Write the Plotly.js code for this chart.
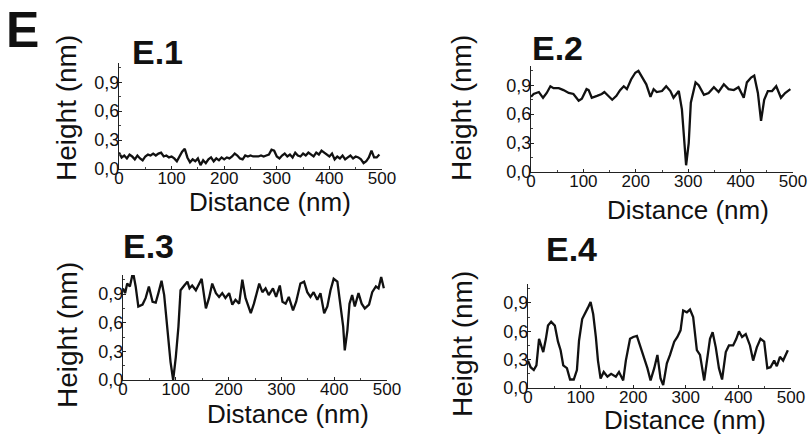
<!DOCTYPE html>
<html>
<head>
<meta charset="utf-8">
<script src="https://cdn.plot.ly/plotly-3.0.1.min.js"></script>
<style>html,body{margin:0;padding:0;background:#fff;}#chart{width:811px;height:444px;}</style>
</head>
<body>
<div id="chart"></div>
<script>
// ---- Data ----
const panelTitles = ["E.1", "E.2", "E.3", "E.4"];
const xTitle = "Distance (nm)";
const yTitle = "Height (nm)";

const e1_x = [0,5,10,15,20,25,30,35,40,45,50,55,60,65,70,75,80,85,90,95,100,105,110,115,120,125,130,135,140,145,150,155,160,165,170,175,180,185,190,195,200,205,210,215,220,225,230,235,240,245,250,255,260,265,270,275,280,285,290,295,300,305,310,315,320,325,330,335,340,345,350,355,360,365,370,375,380,385,390,395,400,405,410,415,420,425,430,435,440,445,450,455,460,465,470,475,480,485,490,495];
const e1_y = [0.17,0.12,0.14,0.11,0.15,0.13,0.10,0.14,0.11,0.09,0.13,0.15,0.14,0.16,0.14,0.16,0.17,0.13,0.14,0.12,0.13,0.11,0.08,0.13,0.18,0.21,0.12,0.07,0.10,0.08,0.11,0.04,0.09,0.06,0.10,0.12,0.08,0.11,0.09,0.12,0.10,0.12,0.11,0.13,0.16,0.14,0.11,0.10,0.14,0.13,0.14,0.13,0.13,0.13,0.14,0.13,0.14,0.15,0.20,0.19,0.13,0.11,0.14,0.16,0.13,0.15,0.12,0.17,0.14,0.13,0.16,0.14,0.17,0.15,0.13,0.17,0.15,0.19,0.17,0.15,0.13,0.16,0.10,0.13,0.11,0.14,0.10,0.12,0.14,0.11,0.13,0.12,0.10,0.06,0.08,0.12,0.19,0.12,0.12,0.15];

const e2_x = [0,5,15,23,30,37,43,53,62,72,81,91,97,106,110,116,126,135,140,148,155,163,170,177,183,191,199,205,212,220,228,234,240,250,258,266,272,282,288,293,296,301,305,314,320,330,339,349,358,368,377,387,396,406,412,420,426,433,439,445,452,460,468,477,485,495];
const e2_y = [0.78,0.81,0.83,0.77,0.82,0.89,0.87,0.87,0.85,0.82,0.81,0.74,0.76,0.86,0.85,0.77,0.79,0.81,0.83,0.79,0.75,0.79,0.85,0.89,0.86,0.96,1.03,1.05,0.98,0.91,0.78,0.86,0.83,0.84,0.89,0.84,0.77,0.84,0.65,0.30,0.07,0.30,0.72,0.93,0.90,0.80,0.82,0.88,0.83,0.91,0.86,0.85,0.88,0.77,0.93,0.98,1.00,0.82,0.53,0.75,0.84,0.84,0.89,0.77,0.82,0.86];

const e3_x = [0,4,8,13,19,24,29,37,43,49,56,62,67,73,78,84,90,95,100,105,109,116,122,126,131,138,144,149,157,163,169,176,182,188,194,201,207,213,220,226,232,242,248,258,264,270,276,284,290,297,302,308,314,322,328,336,343,349,355,361,368,374,381,387,393,399,406,411,417,420,425,429,434,439,446,452,458,466,472,479,484,489,494];
const e3_y = [0.96,0.91,1.01,0.98,1.13,0.98,0.77,0.79,0.86,0.98,0.82,0.81,0.91,1.04,0.89,0.52,0.19,0.00,0.24,0.56,0.94,0.99,1.03,0.96,0.99,0.94,1.01,1.06,0.75,0.86,1.01,0.91,0.87,0.91,0.86,0.91,0.79,0.84,0.80,1.05,0.86,0.70,0.80,1.01,0.92,0.96,0.89,0.96,0.87,0.99,0.82,0.80,0.87,0.73,0.82,1.01,1.03,0.92,0.87,0.92,0.84,0.91,0.70,0.77,0.94,1.06,1.03,0.80,0.56,0.31,0.52,0.80,0.89,0.77,0.91,0.80,0.75,0.79,0.92,0.98,0.96,1.08,0.96];

const e4_x = [0,5,11,16,21,25,29,34,38,44,51,57,62,67,74,80,87,93,97,103,110,114,119,124,129,133,138,144,151,158,167,173,181,186,194,200,207,213,221,227,233,240,246,252,257,264,270,278,284,290,295,302,308,314,321,327,335,341,346,351,357,363,369,376,382,390,396,401,407,414,422,428,435,442,449,455,461,468,473,479,485,494];
const e4_y = [0.29,0.22,0.19,0.24,0.52,0.45,0.38,0.52,0.66,0.70,0.66,0.49,0.40,0.24,0.21,0.09,0.09,0.19,0.50,0.73,0.80,0.85,0.91,0.78,0.54,0.29,0.10,0.17,0.12,0.15,0.12,0.17,0.08,0.29,0.52,0.54,0.55,0.45,0.31,0.21,0.08,0.21,0.35,0.10,0.03,0.26,0.35,0.49,0.54,0.61,0.82,0.80,0.83,0.75,0.40,0.35,0.08,0.33,0.52,0.59,0.43,0.21,0.09,0.38,0.45,0.45,0.52,0.60,0.54,0.57,0.45,0.29,0.43,0.52,0.49,0.21,0.22,0.29,0.23,0.33,0.29,0.40];

const xTickVals = [0,100,200,300,400,500];
const yTickVals = [0,0.3,0.6,0.9];

// ---- Layout helpers (pixel geometry of the reference) ----
const W = 811, H = 444;
const px = v => v / W;
const py = v => 1 - v / H;
const FONT = "Liberation Sans, Arial, sans-serif";

// plot boxes: [left, right, top, bottom] in pixels
const boxes = [
  [119, 382, 63, 169],
  [531, 793, 66, 172],
  [123, 387, 275, 380],
  [528, 791, 284, 388]
];
const titlePos = [[157, 52], [557, 48], [148, 246], [571, 249]];
const xTitlePos = [[270, 202], [688, 210], [288, 414], [685, 420]];
const yTitlePos = [[67, 108], [462, 108], [67, 335], [462, 344]];

const xs = [e1_x, e2_x, e3_x, e4_x];
const ys = [e1_y, e2_y, e3_y, e4_y];

const data = [];
const layout = {
  width: W, height: H,
  margin: {l: 0, r: 0, t: 0, b: 0},
  paper_bgcolor: "#fff", plot_bgcolor: "rgba(0,0,0,0)",
  showlegend: false,
  separators: ",.",
  font: {family: FONT, color: "#111"},
  annotations: []
};

for (let i = 0; i < 4; i++) {
  const n = i === 0 ? "" : String(i + 1);
  data.push({
    type: "scatter", mode: "lines",
    x: xs[i], y: ys[i],
    xaxis: "x" + n, yaxis: "y" + n,
    line: {color: "#111", width: 2.3}
  });
  const b = boxes[i];
  layout["xaxis" + n] = {
    domain: [px(b[0]), px(b[1])],
    anchor: "y" + n,
    range: [0, 500],
    tickvals: xTickVals,
    ticks: "inside", ticklen: 3, tickwidth: 1, tickcolor: "#222",
    minor: {dtick: 50, ticks: "inside", ticklen: 2, tickcolor: "#444"},
    showline: true, linecolor: "#222", linewidth: 1,
    showgrid: false, zeroline: false,
    ticklabelstandoff: -6,
    tickfont: {family: FONT, size: 17, color: "#111"},
    fixedrange: true
  };
  layout["yaxis" + n] = {
    domain: [py(b[3]), py(b[2])],
    anchor: "x" + n,
    range: [0, 1.1],
    tickvals: yTickVals,
    tickformat: ".1f",
    ticks: "inside", ticklen: 3, tickwidth: 1, tickcolor: "#222",
    minor: {dtick: 0.15, ticks: "inside", ticklen: 2, tickcolor: "#444"},
    showline: true, linecolor: "#222", linewidth: 1,
    showgrid: false, zeroline: false,
    ticklabelstandoff: -5,
    tickfont: {family: FONT, size: 18, color: "#111"},
    fixedrange: true
  };
  layout.annotations.push({
    text: "<b>" + panelTitles[i] + "</b>", xref: "paper", yref: "paper",
    x: px(titlePos[i][0]), y: py(titlePos[i][1]), xanchor: "center", yanchor: "middle",
    showarrow: false, font: {family: FONT, size: 34, color: "#111"}
  });
  layout.annotations.push({
    text: xTitle, xref: "paper", yref: "paper",
    x: px(xTitlePos[i][0]), y: py(xTitlePos[i][1]), xanchor: "center", yanchor: "middle",
    showarrow: false, font: {family: FONT, size: 26, color: "#111"}
  });
  layout.annotations.push({
    text: yTitle, xref: "paper", yref: "paper", textangle: -90,
    x: px(yTitlePos[i][0]), y: py(yTitlePos[i][1]), xanchor: "center", yanchor: "middle",
    showarrow: false, font: {family: FONT, size: 28, color: "#111"}
  });
}
layout.annotations.push({
  text: "<b>E</b>", xref: "paper", yref: "paper",
  x: px(4), y: 1, xanchor: "left", yanchor: "top",
  showarrow: false, font: {family: FONT, size: 50, color: "#111"}
});

Plotly.newPlot("chart", data, layout, {displayModeBar: false, staticPlot: true});
</script>
</body>
</html>
